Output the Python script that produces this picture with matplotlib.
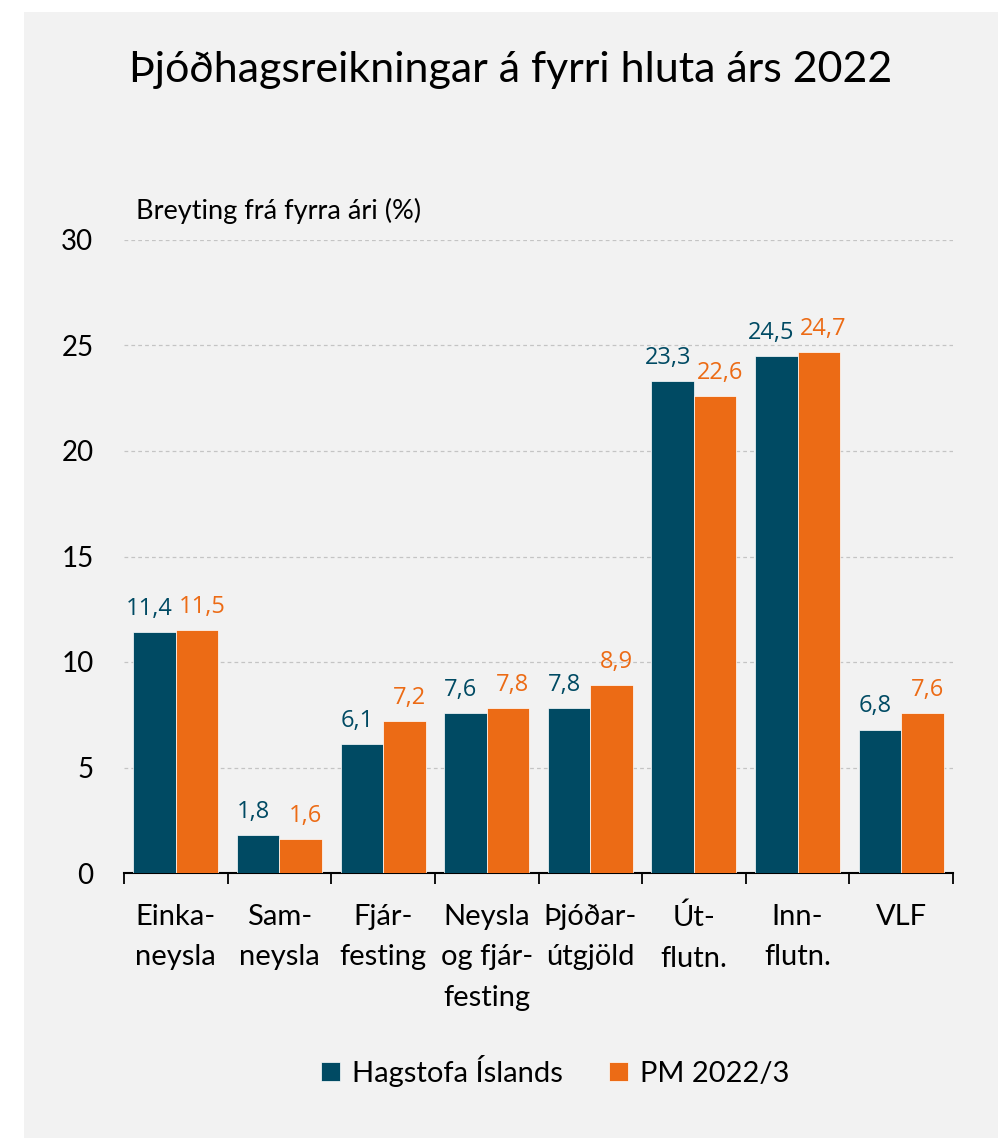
import matplotlib
matplotlib.use("Agg")
import matplotlib.pyplot as plt
from matplotlib.patches import Rectangle
import numpy as np

categories = ["Einka-\nneysla", "Sam-\nneysla", "Fjár-\nfesting", "Neysla\nog fjár-\nfesting",
              "Þjóðar-\nútgjöld", "Út-\nflutn.", "Inn-\nflutn.", "VLF"]
hagstofa = [11.4, 1.8, 6.1, 7.6, 7.8, 23.3, 24.5, 6.8]
pm = [11.5, 1.6, 7.2, 7.8, 8.9, 22.6, 24.7, 7.6]
series_names = ["Hagstofa Íslands", "PM 2022/3"]
yticks = [0, 5, 10, 15, 20, 25, 30]

dark = "#004a63"
orange = "#ec6b15"
bg = "#f2f2f2"

plt.rcParams["font.family"] = ["Lato", "DejaVu Sans"]

fig = plt.figure(figsize=(9.98, 11.38), dpi=100)
fig.patch.set_facecolor("white")
fig.patches.append(Rectangle((23.5/998, 0), 1, (1138-12)/1138, transform=fig.transFigure,
                             facecolor=bg, edgecolor="none", zorder=-10))

ax = fig.add_axes([124/998, (1138-873)/1138, (953-124)/998, (873-240)/1138])
ax.set_facecolor(bg)

x = np.arange(len(categories))
w = 0.41
b1 = ax.bar(x - w/2, hagstofa, w, color=dark, edgecolor="white", linewidth=0.5, label=series_names[0], zorder=3)
b2 = ax.bar(x + w/2, pm, w, color=orange, edgecolor="white", linewidth=0.5, label=series_names[1], zorder=3)

# tölur fyrir ofan súlurnar, aðeins færðar til hliðar svo þær rekist ekki á
for bars, vals, c, dx in [(b1, hagstofa, dark, -3.5), (b2, pm, orange, 3.5)]:
    for r, v in zip(bars, vals):
        ax.annotate(f"{v:.1f}".replace(".", ","), (r.get_x() + r.get_width()/2, v),
                    xytext=(dx, 8), textcoords="offset points", ha="center", va="bottom",
                    color=c, fontsize=17, family=["Open Sans", "DejaVu Sans"])

ax.set_xlim(-0.5, len(categories) - 0.5)
ax.set_ylim(0, 30)
ax.set_yticks(yticks)
ax.set_yticklabels([str(t) for t in yticks], fontsize=20)
ax.tick_params(axis="y", length=0, pad=22)
ax.grid(axis="y", color="#c4c4c4", linestyle=(0, (3, 2.5)), linewidth=0.9, zorder=0)

ax.set_xticks(x)
ax.set_xticklabels(categories, fontsize=21, linespacing=1.7, va="top")
ax.tick_params(axis="x", which="major", length=0, pad=22)
ax.set_xticks(np.arange(len(categories) + 1) - 0.5, minor=True)
ax.tick_params(axis="x", which="minor", length=8, width=1.3, color="black")

for s in ["left", "right", "top"]:
    ax.spines[s].set_visible(False)
ax.spines["bottom"].set_linewidth(1.5)

fig.text(511/998, 1 - 70/1138, "Þjóðhagsreikningar á fyrri hluta árs 2022", ha="center", va="center",
         fontsize=31)
fig.text(136/998, 1 - 211/1138, "Breyting frá fyrra ári (%)", ha="left", va="center", fontsize=19.5)

fig.legend(handles=[b1, b2], labels=series_names, loc="center", bbox_to_anchor=(555/998, 1 - 1071/1138),
           ncol=2, frameon=False, fontsize=21, handlelength=0.65, handleheight=0.65,
           handletextpad=0.4, columnspacing=1.6)

fig.savefig("out.png", dpi=100)
